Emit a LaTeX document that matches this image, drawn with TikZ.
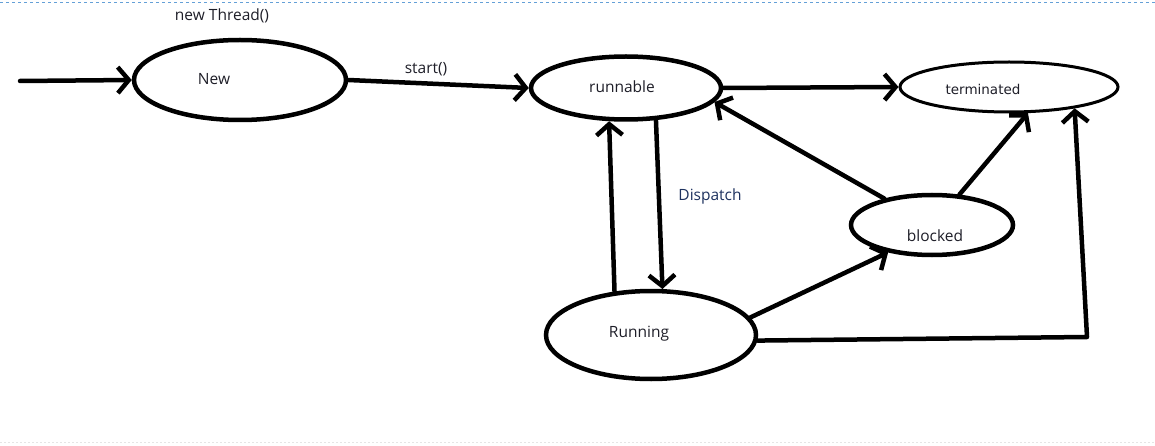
\documentclass[tikz,border=0pt]{standalone}
\usepackage{fontspec}
\setmainfont{Open Sans}
\newfontfamily\termfont{DejaVu Sans}
\usetikzlibrary{shapes.geometric,arrows.meta}
\definecolor{txt}{RGB}{30,30,40}
\definecolor{disp}{RGB}{30,50,95}
\definecolor{dashblue}{RGB}{100,160,215}
\tikzset{
  state/.style={draw=black, ellipse, line width=4.5pt, inner sep=0pt},
  lbl/.style={text=txt, font=\fontsize{15.5}{18}\selectfont, inner sep=0pt},
  conn/.style={line width=4.5pt, line cap=round, line join=round},
  arr/.style={conn, -{Straight Barb[length=11pt,width=26pt,line width=4.5pt]}},
}
\begin{document}
\begin{tikzpicture}[x=1pt,y=-1pt]
\useasboundingbox (0,0) rectangle (1155,446);
\draw[dashblue, line width=1pt, dash pattern=on 3pt off 3pt] (0,3) coordinate (tl) -- (1155,3) coordinate (tr);
\draw[black!10, line width=0.8pt, dash pattern=on 2pt off 2pt] (0,442) coordinate (bl) -- (1155,442) coordinate (br);

\node[state, minimum width=212pt, minimum height=80pt] (new) at (240,80) {};
\node[state, minimum width=190pt, minimum height=63pt] (runnable) at (626,88) {};
\node[state, line width=3pt, minimum width=218pt, minimum height=50pt] (term) at (1009,87) {};
\node[state, minimum width=162pt, minimum height=60pt] (blocked) at (932,225) {};
\node[state, minimum width=210pt, minimum height=88pt] (running) at (651,335) {};

\node[lbl] (newT) at (214,79) {New};
\node[lbl] (runnableT) at (622,87) {runnable};
\node[inner sep=0pt, text=txt, font=\termfont\fontsize{13.5}{15}\selectfont] (termT) at (983,89) {terminated};
\node[lbl] (blockedT) at (935,236) {blocked};
\node[lbl] (runningT) at (639,334) {Running};
\node[lbl] (threadT) at (222,16) {new Thread()};
\node[lbl] (startT) at (426,69) {start()};
\node[lbl, text=disp] (dispT) at (710,196) {Dispatch};

\coordinate (src) at (20,81);
\coordinate (corner) at (1087,337);

\draw[arr] (src) -- (new.west);
\draw[arr] (new.east) -- (runnable.west);
\draw[arr] (runnable.east) -- (term.west);
\draw[arr] (running.130) -- (runnable.-117);
\draw[arr] (runnable.-47) -- (running.76);
\draw[arr] (blocked.151) -- (runnable.-9);
\draw[arr] (blocked.48) -- (term.-54);
\draw[arr] (running.10) -- (blocked.-148);
\draw[arr] (running.-3) -- (corner) -- (term.-18);
\end{tikzpicture}
\end{document}
